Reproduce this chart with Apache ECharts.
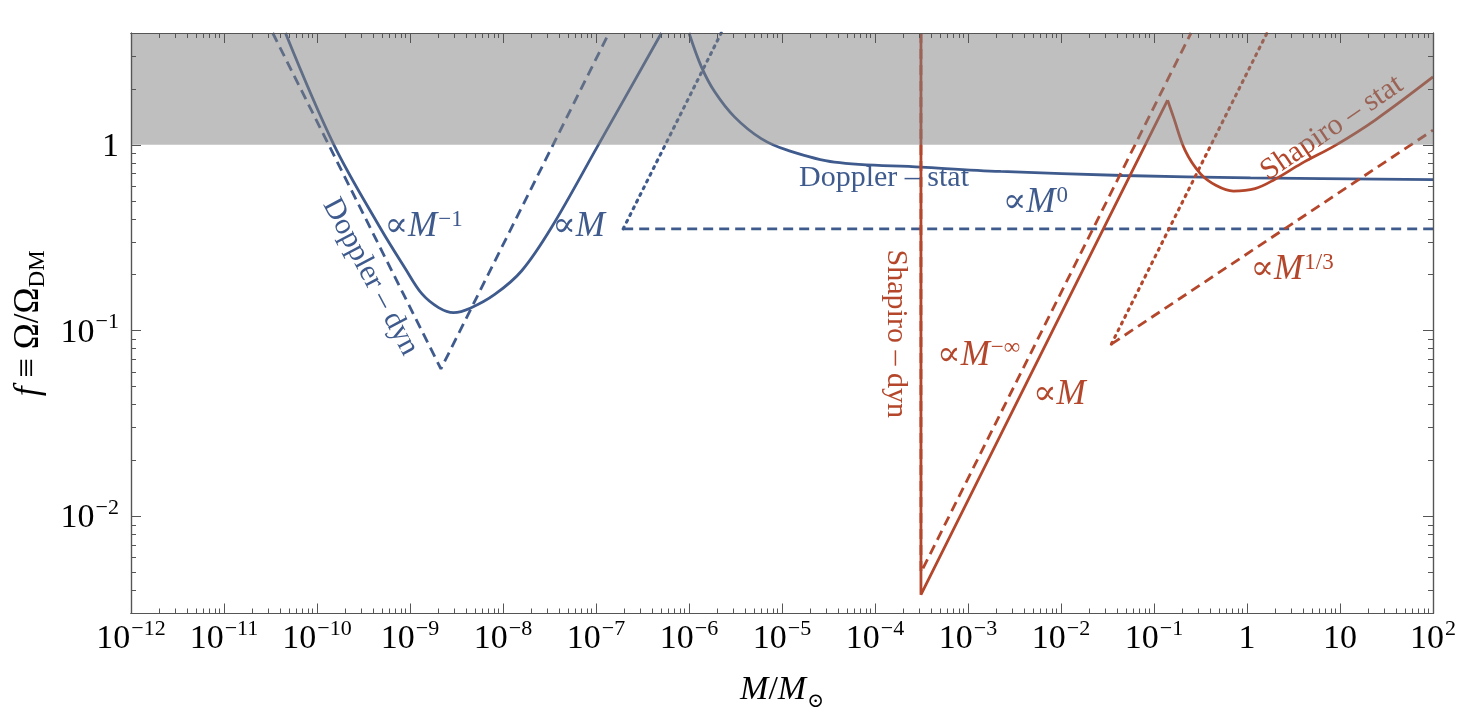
<!DOCTYPE html>
<html>
<head>
<meta charset="utf-8">
<title>f vs M</title>
<script src="https://cdn.jsdelivr.net/npm/echarts@6/dist/echarts.min.js"></script>
<style>
html, body { margin: 0; padding: 0; background: #fff; }
#chart { width: 1459px; height: 723px; }
</style>
</head>
<body>
<div id="chart"></div>
<script>
// values, pairs of [M / M_sun, f]
const dopplerDyn = [
	[4.58e-11, 4.0], [1.52e-10, 1.0], [4.76e-10, 0.359], [8.89e-10, 0.216],
	[1.34e-9, 0.158], [2.03e-9, 0.133], [2.94e-9, 0.125], [4.44e-9, 0.132], [8.22e-9, 0.157],
	[1.59e-8, 0.210], [3.33e-8, 0.360], [1.06e-7, 1.0], [5.06e-7, 4.0]
];
const dopplerDynApprox = [[3.34e-11, 4.0], [2.15e-9, 0.0622], [1.38e-7, 4.0]];
const dopplerStat = [
	[1.0e-6, 4.0], [1.36e-6, 2.63], [1.89e-6, 1.93], [3.10e-6, 1.41], [5.98e-6, 1.08],
	[1.16e-5, 0.933], [3.66e-5, 0.807], [3.12e-4, 0.759], [2.25e-3, 0.719], [4.59e-2, 0.684],
	[1.09, 0.664], [100, 0.649]
];
const dopplerStatRise = [[1.96e-7, 0.353], [2.22e-6, 4.0]];
const dopplerStatFlat = [[1.96e-7, 0.353], [100, 0.353]];

const shapiroDyn = [[3.12e-4, 4.0], [3.12e-4, 0.00379], [0.140, 1.74]];
const shapiroStat = [
	[0.140, 1.74], [0.162, 1.41], [0.216, 0.933], [0.315, 0.700], [0.467, 0.604], [0.713, 0.564],
	[1.22, 0.581], [1.96, 0.649], [3.83, 0.792], [9.10, 1.0], [23.9, 1.36], [100, 2.32]
];
const shapiroDynApprox = [[3.12e-4, 4.0], [3.12e-4, 0.00499], [0.250, 4.0]];
const shapiroStatRise = [[0.0348, 0.0846], [1.64, 4.0]];
const shapiroStatFlat = [[0.0348, 0.0846], [100, 1.20]];

// excluded region f > 1
const excluded = [1, 4];

// axes
const xRange = [1e-12, 100];
const yRange = [0.003, 4];
const xMajor = [1e-12, 1e-11, 1e-10, 1e-9, 1e-8, 1e-7, 1e-6, 1e-5, 1e-4, 1e-3, 1e-2, 1e-1, 1, 10, 100];
const yMajor = [0.001, 0.01, 0.1, 1];

const blue = '#3f5b8d';
const red = '#b4472b';

const annotations = [
	{ text: '{n|Doppler – dyn}', at: [4.00e-10, 0.198], color: blue, rotate: -62 },
	{ text: '{m|∝}{i|M}{s|−1}', at: [1.40e-9, 0.363], color: blue, rotate: 0 },
	{ text: '{m|∝}{i|M}', at: [6.50e-8, 0.363], color: blue, rotate: 0 },
	{ text: '{n|Doppler – stat}', at: [1.25e-4, 0.684], color: blue, rotate: 0 },
	{ text: '{m|∝}{i|M}{s|0}', at: [5.30e-3, 0.490], color: blue, rotate: 0 },
	{ text: '{n|Shapiro – dyn}', at: [1.81e-4, 0.0962], color: red, rotate: -90 },
	{ text: '{m|∝}{i|M}{s|−∞}', at: [1.30e-3, 0.0740], color: red, rotate: 0 },
	{ text: '{m|∝}{i|M}', at: [9.60e-3, 0.0456], color: red, rotate: 0 },
	{ text: '{m|∝}{i|M}{s|1/3}', at: [3.05, 0.213], color: red, rotate: 0 },
	{ text: '{n|Shapiro – stat}', at: [7.85, 1.27], color: red, rotate: 34 }
];

// minor ticks at 2..9 times each decade
function minorTicks(majors, lo, hi) {
	const out = [];
	majors.forEach(m => {
		for (let k = 2; k < 10; k++) {
			const v = k * m;
			if (v >= lo && v <= hi) out.push(v);
		}
	});
	return out;
}
const xMinor = minorTicks(xMajor, xRange[0], xRange[1]);
const yMinor = minorTicks(yMajor, yRange[0], yRange[1]);

const serif = '"Liberation Serif", "DejaVu Serif", serif';
const frame = '#555';

const supRich = {
	p: { fontSize: 34, fontFamily: serif, color: '#000', lineHeight: 38, padding: [4, 0, 0, 0] },
	b: { fontSize: 34, fontFamily: serif, color: '#000', lineHeight: 38, verticalAlign: 'bottom' },
	s: { fontSize: 22, fontFamily: serif, color: '#000', lineHeight: 22, verticalAlign: 'top', padding: [0, 0, 20, 1] }
};

function powLabel(v) {
	const n = Math.round(Math.log10(v));
	if (n === 0) return '{p|1}';
	if (n === 1) return '{p|10}';
	return '{b|10}{s|' + (n < 0 ? '\u2212' : '') + Math.abs(n) + '}';
}

function frameAxis(position, range, ticks, len, extra) {
	return Object.assign({
		type: 'log',
		logBase: 10,
		position: position,
		min: range[0],
		max: range[1],
		z: 10,
		axisLine: { show: true, onZero: false, lineStyle: { color: frame, width: 1.2 } },
		axisTick: { show: true, inside: true, length: len, customValues: ticks, lineStyle: { color: frame, width: 1 } },
		axisLabel: { show: false },
		splitLine: { show: false },
		minorTick: { show: false },
		minorSplitLine: { show: false }
	}, extra || {});
}

const xAxes = [
	frameAxis('bottom', xRange, xMajor, 10, {
		axisLabel: { show: true, margin: 5, customValues: xMajor, formatter: powLabel, rich: supRich },
		name: '{i|M}{n|/}{i|M}{sub|⊙}',
		nameLocation: 'middle',
		nameGap: 60,
		nameTextStyle: {
			rich: {
				i: { fontSize: 34, fontFamily: serif, fontStyle: 'italic', color: '#000', lineHeight: 38, verticalAlign: 'top' },
				n: { fontSize: 34, fontFamily: serif, color: '#000', lineHeight: 38, verticalAlign: 'top' },
				sub: { fontSize: 20, fontFamily: '"DejaVu Serif", serif', color: '#000', lineHeight: 20, verticalAlign: 'bottom', padding: [20, 0, 0, 1] }
			}
		}
	}),
	frameAxis('bottom', xRange, xMinor, 5),
	frameAxis('top', xRange, xMajor, 10),
	frameAxis('top', xRange, xMinor, 5)
];

const yAxes = [
	frameAxis('left', yRange, yMajor, 10, {
		axisLabel: { show: true, margin: 12, customValues: yMajor, formatter: powLabel, rich: supRich },
		name: '{i|f}{n| ≡ Ω/Ω}{sub|DM}',
		nameLocation: 'middle',
		nameGap: 82,
		nameTextStyle: {
			rich: {
				i: { fontSize: 35, fontFamily: serif, fontStyle: 'italic', color: '#000', lineHeight: 38, verticalAlign: 'top' },
				n: { fontSize: 35, fontFamily: serif, color: '#000', lineHeight: 38, verticalAlign: 'top' },
				sub: { fontSize: 23, fontFamily: serif, color: '#000', lineHeight: 23, verticalAlign: 'bottom', padding: [18, 0, 0, 0] }
			}
		}
	}),
	frameAxis('left', yRange, yMinor, 5),
	frameAxis('right', yRange, yMajor, 10),
	frameAxis('right', yRange, yMinor, 5)
];

const DASH = [10, 6];
const DOT = [2, 5.5];

function curve(name, data, color, dash, smooth) {
	const dotted = dash === DOT;
	return {
		name: name,
		type: 'line',
		data: data,
		symbol: 'none',
		smooth: smooth ? 0.35 : false,
		clip: true,
		silent: true,
		z: 2,
		lineStyle: { color: color, width: dotted ? 3.1 : 2.8, type: dash || 'solid', cap: dotted ? 'round' : 'butt' }
	};
}

const chart = echarts.init(document.getElementById('chart'));
chart.setOption({
	animation: false,
	textStyle: { fontFamily: serif },
	grid: { left: 128.5, right: 26, top: 33, bottom: 109.5 },
	xAxis: xAxes,
	yAxis: yAxes,
	series: [
		curve('Doppler dyn', dopplerDyn, blue, null, true),
		curve('Doppler dyn approx', dopplerDynApprox, blue, DASH),
		curve('Doppler stat', dopplerStat, blue, null, true),
		curve('Doppler stat rise', dopplerStatRise, blue, DOT),
		curve('Doppler stat flat', dopplerStatFlat, blue, DASH),
		curve('Shapiro dyn', shapiroDyn, red),
		curve('Shapiro dyn approx', shapiroDynApprox, red, DASH),
		curve('Shapiro stat', shapiroStat, red, null, true),
		curve('Shapiro stat rise', shapiroStatRise, red, DOT),
		curve('Shapiro stat flat', shapiroStatFlat, red, DASH),
		{
			name: 'labels',
			type: 'scatter',
			symbolSize: 0,
			silent: true,
			z: 3,
			itemStyle: { opacity: 1 },
			label: {
				show: true,
				position: 'inside',
				opacity: 1,
				rich: {
					n: { fontSize: 30, fontFamily: serif, lineHeight: 36, verticalAlign: 'bottom' },
					m: { fontSize: 35, fontFamily: serif, lineHeight: 36, verticalAlign: 'bottom' },
					i: { fontSize: 35, fontFamily: serif, fontStyle: 'italic', lineHeight: 36, verticalAlign: 'bottom' },
					s: { fontSize: 23, fontFamily: serif, lineHeight: 23, verticalAlign: 'top', padding: [0, 0, 17, 1] }
				}
			},
			data: annotations.map(a => ({
				value: a.at,
				label: { formatter: a.text, color: a.color, rotate: a.rotate }
			}))
		},
		{
			name: 'excluded',
			type: 'line',
			data: [],
			silent: true,
			markArea: {
				silent: true,
				z: 5,
				itemStyle: { color: 'rgba(127,127,127,0.5)' },
				data: [[{ coord: [xRange[0], excluded[0]] }, { coord: [xRange[1], excluded[1]] }]]
			}
		}
	]
});
</script>
</body>
</html>
